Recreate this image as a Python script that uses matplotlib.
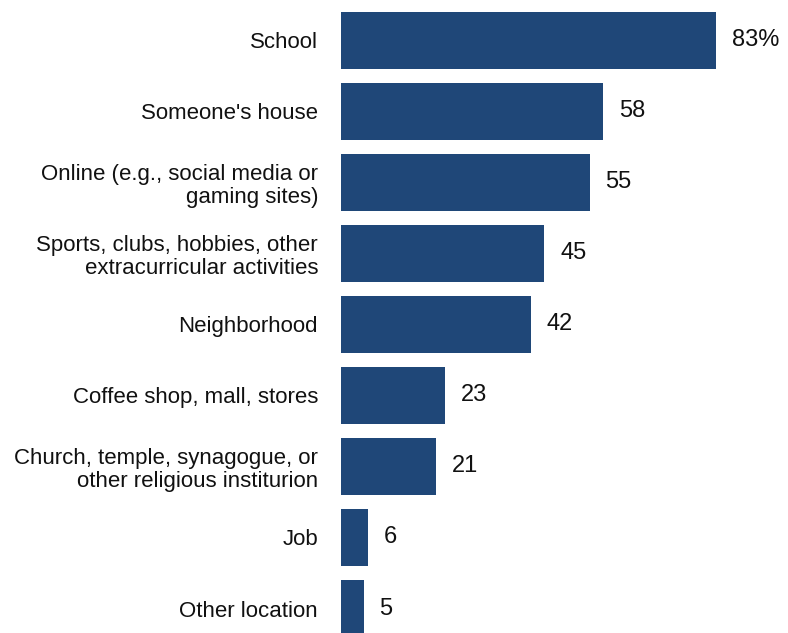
import matplotlib.pyplot as plt

plt.rcParams["font.family"] = ["Liberation Sans", "DejaVu Sans"]

# Where teens spend time with friends (percent)
locations = [
    "School",
    "Someone's house",
    "Online (e.g., social media or\ngaming sites)",
    "Sports, clubs, hobbies, other\nextracurricular activities",
    "Neighborhood",
    "Coffee shop, mall, stores",
    "Church, temple, synagogue, or\nother religious institurion",
    "Job",
    "Other location",
]
values = [83, 58, 55, 45, 42, 23, 21, 6, 5]
value_labels = ["83%", "58", "55", "45", "42", "23", "21", "6", "5"]

bar_color = "#1f4778"

fig = plt.figure(figsize=(7.88, 6.33), dpi=100)
ax = fig.add_axes([341 / 788, 0, 447 / 788, 1])

y = list(range(len(locations)))
ax.barh(y, values, height=0.8, color=bar_color)

for yi, v, lab in zip(y, values, value_labels):
    ax.annotate(lab, (v, yi), xytext=(11.5, 0), textcoords="offset points",
                ha="left", va="center", fontsize=17, color="#111111")

ax.set_yticks(y)
ax.set_yticklabels(locations, fontsize=16, color="#111111", linespacing=1.1)
ax.tick_params(axis="y", length=0, pad=16.5)
ax.set_xticks([])
ax.set_xlim(0, 98.9)
ax.set_ylim(8.345, -0.57)
for s in ax.spines.values():
    s.set_visible(False)

fig.savefig("out.png", dpi=100)
